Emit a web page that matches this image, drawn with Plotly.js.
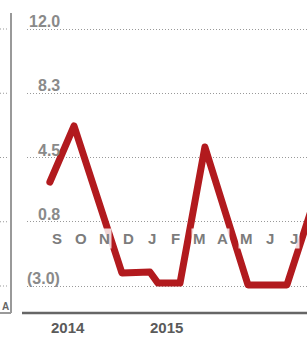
<!DOCTYPE html>
<html>
<head>
<meta charset="utf-8">
<script src="https://cdn.plot.ly/plotly-3.0.1.min.js"></script>
<style>
html,body{margin:0;padding:0;background:#fff;}
#chart{width:307px;height:337px;}
.js-line{stroke-linejoin:round;stroke-linecap:round;}
</style>
</head>
<body>
<div id="chart"></div>
<script>
// Data (month index: 0 = Sep 2014)
var seriesX = [-0.30, 0.72, 2.74, 3.92, 4.26, 5.19, 6.24, 8.06, 9.70, 11.0];
var seriesY = [3.07, 6.34, -2.24, -2.18, -2.83, -2.83, 5.11, -2.94, -2.94, 2.6];
var monthLabels = ["S","O","N","D","J","F","M","A","M","J","J"];
var tickVals = [12, 8.25, 4.5, 0.75, -3];
var tickText = ["12.0", "8.3", "4.5", "0.8", "(3.0)"];
var yearLabels = ["2014", "2015"];
var yearPos = [0.46, 4.6];

var FONT = "Liberation Sans, Arial, sans-serif";
var W = 307, H = 337, ML = 27, MR = 0, MT = 10, MB = 32;
var pw = W - ML - MR, ph = H - MT - MB;
function px2paperX(px){ return (px - ML) / pw; }
function px2paperY(py){ return (H - MB - py) / ph; }

var annotations = [];
// y tick labels above gridlines
for (var i = 0; i < tickVals.length; i++) {
  annotations.push({
    xref: 'paper', yref: 'y', x: px2paperX(62), y: tickVals[i],
    xanchor: 'right', yanchor: 'bottom', yshift: -3,
    text: tickText[i], showarrow: false,
    font: {family: FONT, size: 16, color: '#8a8a8a', weight: 'bold'}
  });
}
// month letters
for (var m = 0; m < monthLabels.length; m++) {
  annotations.push({
    xref: 'x', yref: 'y', x: m, y: -0.2,
    xanchor: 'center', yanchor: 'middle',
    text: monthLabels[m], showarrow: false,
    bgcolor: 'rgba(255,255,255,0.82)', borderpad: 1,
    font: {family: FONT, size: 15, color: '#7c7c7c', weight: 'bold'}
  });
}
// year labels
for (var k = 0; k < yearLabels.length; k++) {
  annotations.push({
    xref: 'x', yref: 'paper', x: yearPos[k], y: px2paperY(327),
    xanchor: 'center', yanchor: 'middle',
    text: yearLabels[k], showarrow: false,
    font: {family: FONT, size: 15, color: '#5a5a5a', weight: 'bold'}
  });
}
// letter from the neighbouring panel
annotations.push({
  xref: 'paper', yref: 'paper', x: px2paperX(1), y: px2paperY(306),
  xanchor: 'left', yanchor: 'middle', text: 'A', showarrow: false, borderpad: 0,
  font: {family: FONT, size: 10, color: '#666', weight: 'bold'}
});

var shapes = [
  // x axis baseline
  {type: 'line', xref: 'paper', yref: 'paper', x0: px2paperX(22), x1: px2paperX(310),
   y0: px2paperY(313), y1: px2paperY(313), line: {color: '#666', width: 2.5}},
  // neighbouring panel border
  {type: 'line', xref: 'paper', yref: 'paper', x0: px2paperX(11), x1: px2paperX(11),
   y0: px2paperY(13), y1: px2paperY(313), line: {color: '#999', width: 2}},
  {type: 'line', xref: 'paper', yref: 'paper', x0: px2paperX(-2), x1: px2paperX(11),
   y0: px2paperY(313), y1: px2paperY(313), line: {color: '#999', width: 2}}
];
for (var j = 0; j < tickVals.length; j++) {
  shapes.push({type: 'line', xref: 'paper', yref: 'y', x0: px2paperX(0), x1: px2paperX(8),
    y0: tickVals[j], y1: tickVals[j], line: {color: '#999', width: 1, dash: '1px,2px'}});
}

var trace = {
  x: seriesX, y: seriesY, type: 'scatter', mode: 'lines',
  line: {color: '#b21a1e', width: 7},
  hoverinfo: 'skip', cliponaxis: true
};

var layout = {
  width: W, height: H,
  margin: {l: ML, r: MR, t: MT, b: MB, pad: 0},
  paper_bgcolor: '#fff', plot_bgcolor: '#fff',
  showlegend: false,
  xaxis: {range: [-30 / 23.7, (307 - 57) / 23.7], showgrid: false, zeroline: false,
          showticklabels: false, showline: false, ticks: '', fixedrange: true},
  yaxis: {range: [-4.109, 13.109], tickvals: tickVals, showticklabels: false,
          showgrid: true, gridcolor: '#999', gridwidth: 1, griddash: '1px,2px',
          zeroline: false, showline: false, ticks: '', fixedrange: true},
  annotations: annotations,
  shapes: shapes
};

Plotly.newPlot('chart', [trace], layout, {displayModeBar: false, staticPlot: true});
</script>
</body>
</html>
